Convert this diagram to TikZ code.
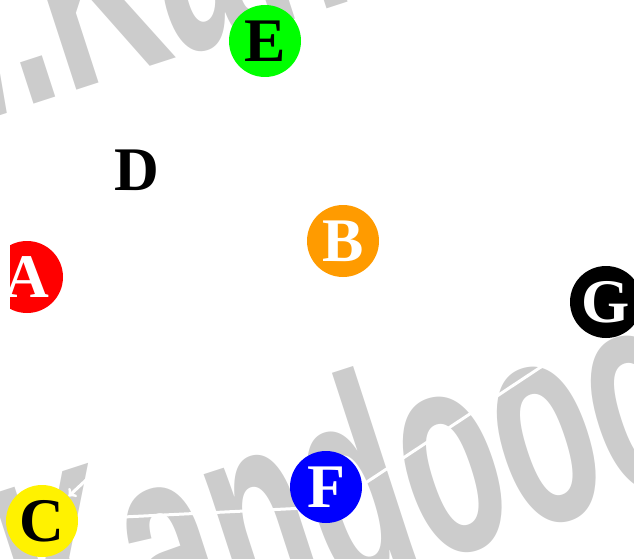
\documentclass[tikz,border=0pt]{standalone}
\usepackage{fontspec}
\setmainfont{Liberation Serif}
\newfontfamily\markfont{Liberation Sans}
\usetikzlibrary{arrows}
\definecolor{myOrange}{RGB}{255,155,0}
\definecolor{myGrey}{RGB}{204,204,204}
\pgfdeclarelayer{background}
\pgfsetlayers{background,main}
\tikzset{
myVertex/.style={
	circle, inner sep=0pt, minimum size=72pt,
	font=\fontsize{62}{62}\selectfont\bfseries
}
, myMark/.style={
	text=myGrey, inner sep=0pt, rotate=18,
	font=\fontsize{162}{162}\selectfont\markfont\bfseries
}
% link
, myLink/.style={white, line width=3pt}
, myArc/.style={->, white, line width=3pt}
}

\begin{document}
\begin{tikzpicture}[x=1pt,y=-1pt]
	\useasboundingbox (0,0) rectangle (634,559);
	\clip (0,0) rectangle (634,559);
	% nodes
	\node[myVertex, fill=green] (E) at (265,41) {E};
	\node[myVertex, fill=white] (D) at (137,170) {D};
	\begin{scope}
		\clip (10,0) rectangle (634,559);
		\node[myVertex, fill=red, text=white] (A) at (27,277) {A};
	\end{scope}
	\node[myVertex, fill=myOrange, text=white] (B) at (343,241) {B};
	\node[myVertex, fill=black, text=white] (G) at (606,302) {G};
	\node[myVertex, fill=blue, text=white] (F) at (326,487) {F};
	\node[myVertex, fill=yellow] (C) at (42,521) {C};

	\begin{pgfonlayer}{background}
	\clip (0,0) rectangle (634,559);
	% watermark
	\node[myMark, anchor=base west] (MarkTop) at (66,94) {\scalebox{1}[1.8]{Kandooo.com}};
	\node[myMark, anchor=base east] (MarkTopW) at (66,94) {\scalebox{1}[1.8]{www.}};
	\node[myMark, anchor=base west] (MarkLow) at (44,689) {\scalebox{1}[1.8]{Kandooo.com}};
	\node[myMark, anchor=base east] (MarkLowW) at (44,689) {\scalebox{1}[1.8]{www.}};
	% links
	\draw [myLink] ([yshift=-22pt]G.center) -- ([yshift=-22pt]F.center);
	\draw [myArc] ([yshift=-20pt]F.center) -- (C);
	\draw [myArc] (B) -- (C);
	\end{pgfonlayer}
\end{tikzpicture}
\end{document}
